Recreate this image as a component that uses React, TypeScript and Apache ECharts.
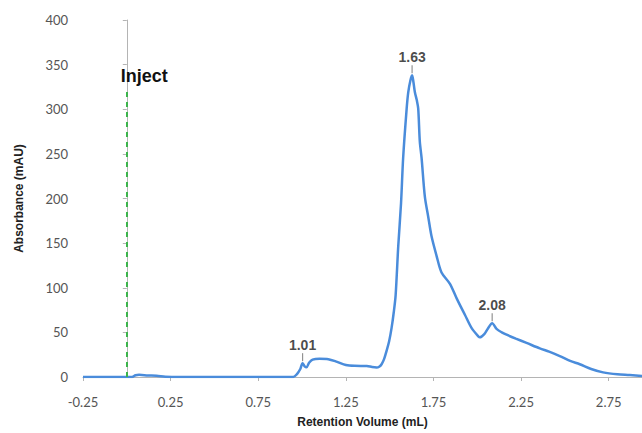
import React, { useEffect, useRef } from "react";
import * as echarts from "echarts";

// Retention volume (mL) and absorbance (mAU)
const volume = [
  -0.25, 0.0, 0.03, 0.05, 0.07, 0.12, 0.17, 0.22, 0.3, 0.5, 0.8, 0.95, 0.97, 0.99,
  1.003, 1.015, 1.026, 1.04, 1.06, 1.1, 1.15, 1.2, 1.25, 1.3, 1.37, 1.4, 1.425,
  1.44, 1.454, 1.468, 1.482, 1.497, 1.511, 1.523, 1.534, 1.549, 1.565, 1.577,
  1.597, 1.606, 1.618, 1.628, 1.636, 1.644, 1.655, 1.663, 1.672, 1.682, 1.701,
  1.72, 1.739, 1.768, 1.796, 1.844, 1.883, 1.93, 1.968, 2.006, 2.015, 2.04, 2.06,
  2.085, 2.11, 2.14, 2.167, 2.22, 2.281, 2.357, 2.41, 2.471, 2.53, 2.585, 2.65,
  2.718, 2.8, 2.87, 2.95,
];
const absorbance = [
  0, 0, 0, 2, 2.4, 1.8, 1.5, 0.4, 0, 0, 0, 0, 3, 9,
  15.5, 12, 11, 16, 19.5, 20.5, 20, 17, 13.5, 12.5, 12.3, 11.2, 10.7,
  11.5, 14.3, 20, 29, 40, 55, 72, 91.5, 146.6, 195, 245.7,
  300.8, 319, 332, 338, 330, 319, 310, 300.8, 264, 245.7, 201.7,
  179.6, 157.6, 135.5, 117.1, 104.4, 87.8, 69.4, 54.7, 45.5, 44.4, 48, 54,
  60.3, 54, 50, 47.4, 43, 38.2, 32, 28.5, 23.5, 18, 14.3, 9,
  5.2, 3, 2.2, 1,
];

// Annotated peaks
const peakVolume = [1.003, 1.628, 2.085];
const peakAbs = [15.5, 338, 60.3];
const peakLabels = ["1.01", "1.63", "2.08"];

// Injection marker
const injectVolume = 0;
const injectTop = 320;

const xMin = -0.25;
const xMax = 2.94;
const xInterval = 0.5;
const yMin = 0;
const yMax = 400;
const yInterval = 50;

export default function App() {
  const ref = useRef<HTMLDivElement>(null);

  useEffect(() => {
    if (!ref.current) return;
    const chart = echarts.init(ref.current, undefined, { renderer: "svg" });
    const font = "Lato, 'Open Sans', sans-serif";
    const boldFont = "'Liberation Sans', Arial, sans-serif";
    const axisGray = "#b4b4b4";

    chart.setOption({
      animation: false,
      grid: { left: 83, right: 0, top: 20, bottom: 50, containLabel: false },
      xAxis: {
        type: "value",
        min: xMin,
        max: xMax,
        interval: xInterval,
        name: "Retention Volume (mL)",
        nameLocation: "middle",
        nameGap: 39,
        nameTextStyle: { fontFamily: boldFont, fontWeight: "bold", fontSize: 12, color: "#222" },
        axisLine: { show: true, lineStyle: { color: axisGray, width: 1 } },
        axisTick: { show: true, length: 4, lineStyle: { color: axisGray } },
        axisLabel: {
          color: "#555",
          fontFamily: font,
          fontSize: 13,
          margin: 18,
          showMaxLabel: false,
          formatter: (v: number) => v.toFixed(2),
        },
        splitLine: { show: false },
      },
      yAxis: {
        type: "value",
        min: yMin,
        max: yMax,
        interval: yInterval,
        name: "Absorbance (mAU)",
        nameLocation: "middle",
        nameGap: 58,
        nameTextStyle: { fontFamily: boldFont, fontWeight: "bold", fontSize: 12, color: "#222" },
        axisLine: { show: true, lineStyle: { color: axisGray, width: 1 } },
        axisTick: { show: true, length: 4, lineStyle: { color: axisGray } },
        axisLabel: { color: "#555", fontFamily: font, fontSize: 13, margin: 15 },
        splitLine: { show: false },
      },
      series: [
        {
          type: "line",
          data: volume.map((v, i) => [v, absorbance[i]]),
          showSymbol: false,
          smooth: 0.3,
          lineStyle: { color: "#4a8cdb", width: 2.5 },
          z: 3,
          markLine: {
            silent: true,
            symbol: ["none", "none"],
            lineStyle: { color: "#3cb44b", type: [5, 5], width: 2 },
            label: {
              show: true,
              position: "end",
              formatter: "Inject",
              fontFamily: boldFont,
              fontWeight: "bold",
              fontSize: 18,
              color: "#111",
              align: "left",
              offset: [-6, 0],
              distance: 6,
            },
            data: [[{ coord: [injectVolume, 0] }, { coord: [injectVolume, injectTop] }]],
          },
        },
        {
          type: "scatter",
          data: peakVolume.map((v, i) => ({ value: [v, peakAbs[i]], name: peakLabels[i] })),
          symbol: "rect",
          symbolSize: [1.2, 8],
          symbolOffset: [0, -6],
          itemStyle: { color: "#777" },
          z: 4,
          label: {
            show: true,
            position: "top",
            distance: 1,
            formatter: (p: any) => p.name,
            fontFamily: boldFont,
            fontWeight: "bold",
            fontSize: 14,
            color: "#1a1a1a",
          },
        },
      ],
    });

    return () => chart.dispose();
  }, []);

  return (
    <div
      ref={ref}
      style={{ position: "absolute", left: 0, top: 0, width: 642, height: 433, background: "#fff" }}
    />
  );
}
